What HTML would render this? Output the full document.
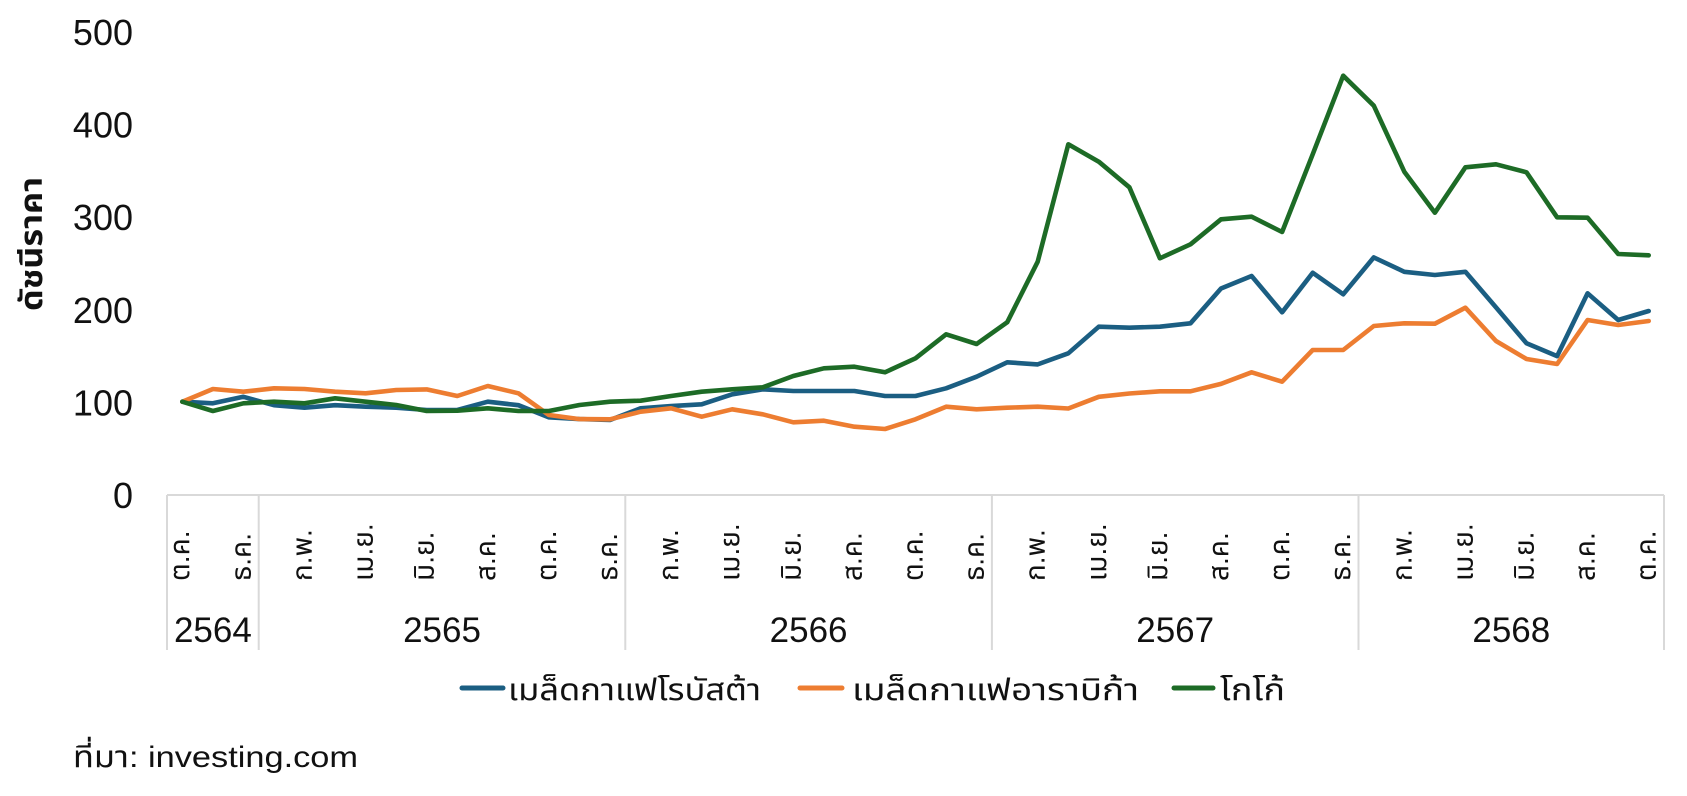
<!DOCTYPE html>
<html>
<head>
<meta charset="utf-8">
<style>
html,body{margin:0;padding:0;background:#fff;}
svg{display:block;}
text{font-family:"Liberation Sans","Noto Sans Thai","Noto Sans Thai UI","Loma","Garuda","Norasi","Tlwg Typo","Sarabun","Tahoma","DejaVu Sans",sans-serif;fill:#111;}
</style>
</head>
<body>
<svg width="1687" height="796" viewBox="0 0 1687 796" xmlns="http://www.w3.org/2000/svg">
<rect width="1687" height="796" fill="#fff"/>

<!-- Y tick labels -->
<g font-size="36" text-anchor="end">
<text x="133" y="45">500</text>
<text x="133" y="137.5">400</text>
<text x="133" y="230.2">300</text>
<text x="133" y="322.8">200</text>
<text x="133" y="415.5">100</text>
<text x="133" y="508">0</text>
</g>

<!-- Y axis title -->
<text transform="translate(42,244) rotate(-90)" font-size="31" font-weight="bold" text-anchor="middle" textLength="134" lengthAdjust="spacingAndGlyphs">ดัชนีราคา</text>

<!-- X axis line and separators -->
<g stroke="#d9d9d9" stroke-width="2" fill="none">
<line x1="167" y1="495" x2="1664" y2="495"/>
<line x1="167" y1="495" x2="167" y2="650"/>
<line x1="258.7" y1="495" x2="258.7" y2="650"/>
<line x1="625.3" y1="495" x2="625.3" y2="650"/>
<line x1="991.9" y1="495" x2="991.9" y2="650"/>
<line x1="1358.5" y1="495" x2="1358.5" y2="650"/>
<line x1="1664" y1="495" x2="1664" y2="650"/>
</g>

<!-- Month labels (rotated) -->
<g font-size="28">
<text transform="translate(189,581) rotate(-90)">ต.ค.</text>
<text transform="translate(250.4,581) rotate(-90)">ธ.ค.</text>
<text transform="translate(311.5,581) rotate(-90)">ก.พ.</text>
<text transform="translate(372.6,581) rotate(-90)">เม.ย.</text>
<text transform="translate(433.7,581) rotate(-90)">มิ.ย.</text>
<text transform="translate(494.8,581) rotate(-90)">ส.ค.</text>
<text transform="translate(555.9,581) rotate(-90)">ต.ค.</text>
<text transform="translate(617,581) rotate(-90)">ธ.ค.</text>
<text transform="translate(678.1,581) rotate(-90)">ก.พ.</text>
<text transform="translate(739.2,581) rotate(-90)">เม.ย.</text>
<text transform="translate(800.3,581) rotate(-90)">มิ.ย.</text>
<text transform="translate(861.4,581) rotate(-90)">ส.ค.</text>
<text transform="translate(922.5,581) rotate(-90)">ต.ค.</text>
<text transform="translate(983.6,581) rotate(-90)">ธ.ค.</text>
<text transform="translate(1044.7,581) rotate(-90)">ก.พ.</text>
<text transform="translate(1105.8,581) rotate(-90)">เม.ย.</text>
<text transform="translate(1166.9,581) rotate(-90)">มิ.ย.</text>
<text transform="translate(1228,581) rotate(-90)">ส.ค.</text>
<text transform="translate(1289.1,581) rotate(-90)">ต.ค.</text>
<text transform="translate(1350.2,581) rotate(-90)">ธ.ค.</text>
<text transform="translate(1411.3,581) rotate(-90)">ก.พ.</text>
<text transform="translate(1472.4,581) rotate(-90)">เม.ย.</text>
<text transform="translate(1533.5,581) rotate(-90)">มิ.ย.</text>
<text transform="translate(1594.6,581) rotate(-90)">ส.ค.</text>
<text transform="translate(1655.7,581) rotate(-90)">ต.ค.</text>
</g>

<!-- Year labels -->
<g font-size="35" text-anchor="middle">
<text x="212.9" y="642">2564</text>
<text x="442" y="642">2565</text>
<text x="808.6" y="642">2566</text>
<text x="1175.2" y="642">2567</text>
<text x="1511.3" y="642">2568</text>
</g>

<!-- Series -->
<g fill="none" stroke-width="4.6" stroke-linejoin="round" stroke-linecap="round">
<polyline stroke="#1b5e82" points="182.3,401.7 212.9,403.3 243.4,396.8 274.0,405.2 304.5,407.7 335.1,405.2 365.6,406.7 396.2,407.7 426.7,410.0 457.3,410.0 487.8,401.7 518.4,405.2 548.9,417.3 579.5,419.1 610.0,420.0 640.6,408.3 671.1,406.1 701.7,404.3 732.2,394.3 762.8,389.3 793.3,391.0 823.9,391.0 854.4,391.0 885.0,396.0 915.5,396.0 946.1,388.3 976.6,376.7 1007.2,362.3 1037.7,364.4 1068.3,353.3 1098.8,326.7 1129.4,327.7 1159.9,326.7 1190.5,323.3 1221.0,288.5 1251.6,276.0 1282.1,312.3 1312.7,272.8 1343.2,294.3 1373.8,257.4 1404.3,271.8 1434.9,275.0 1465.4,271.8 1496.0,307.4 1526.5,343.3 1557.1,356.1 1587.6,293.3 1618.2,320.0 1648.7,311.0"/>
<polyline stroke="#ed7d31" points="182.3,401.7 212.9,389.0 243.4,391.7 274.0,388.3 304.5,389.0 335.1,391.7 365.6,393.3 396.2,390.0 426.7,389.4 457.3,396.0 487.8,386.0 518.4,393.3 548.9,415.0 579.5,419.1 610.0,419.3 640.6,411.7 671.1,408.3 701.7,416.7 732.2,409.3 762.8,414.3 793.3,422.3 823.9,420.7 854.4,426.7 885.0,429.0 915.5,419.3 946.1,406.7 976.6,409.3 1007.2,407.7 1037.7,406.7 1068.3,408.5 1098.8,396.8 1129.4,393.5 1159.9,391.3 1190.5,391.3 1221.0,383.9 1251.6,372.3 1282.1,381.7 1312.7,350.0 1343.2,350.0 1373.8,326.0 1404.3,323.3 1434.9,323.7 1465.4,307.7 1496.0,341.0 1526.5,359.0 1557.1,364.0 1587.6,320.0 1618.2,325.0 1648.7,321.0"/>
<polyline stroke="#1d6b26" points="182.3,401.7 212.9,411.0 243.4,403.3 274.0,401.7 304.5,403.3 335.1,398.3 365.6,401.7 396.2,405.0 426.7,411.0 457.3,410.7 487.8,408.3 518.4,411.0 548.9,411.0 579.5,405.0 610.0,401.7 640.6,400.7 671.1,396.0 701.7,391.7 732.2,389.3 762.8,387.3 793.3,376.0 823.9,368.3 854.4,366.7 885.0,372.3 915.5,358.3 946.1,334.3 976.6,344.0 1007.2,322.3 1037.7,261.7 1068.3,144.3 1098.8,161.7 1129.4,187.3 1159.9,258.3 1190.5,244.3 1221.0,219.3 1251.6,216.7 1282.1,232.0 1312.7,154.3 1343.2,75.7 1373.8,105.7 1404.3,171.7 1434.9,212.7 1465.4,167.3 1496.0,164.3 1526.5,172.3 1557.1,217.3 1587.6,217.7 1618.2,254.0 1648.7,255.3"/>
</g>

<!-- Legend -->
<g stroke-width="5" stroke-linecap="round">
<line x1="462" y1="688" x2="503" y2="688" stroke="#1b5e82"/>
<line x1="800" y1="688" x2="842" y2="688" stroke="#ed7d31"/>
<line x1="1174" y1="688" x2="1213" y2="688" stroke="#1d6b26"/>
</g>
<g font-size="30">
<text x="508" y="700" textLength="253" lengthAdjust="spacingAndGlyphs">เมล็ดกาแฟโรบัสต้า</text>
<text x="852" y="700" textLength="287" lengthAdjust="spacingAndGlyphs">เมล็ดกาแฟอาราบิก้า</text>
<text x="1220" y="700" textLength="65" lengthAdjust="spacingAndGlyphs">โกโก้</text>
</g>

<!-- Source -->
<text x="73" y="767" font-size="30" textLength="285" lengthAdjust="spacingAndGlyphs">ที่มา: investing.com</text>
</svg>
</body>
</html>
